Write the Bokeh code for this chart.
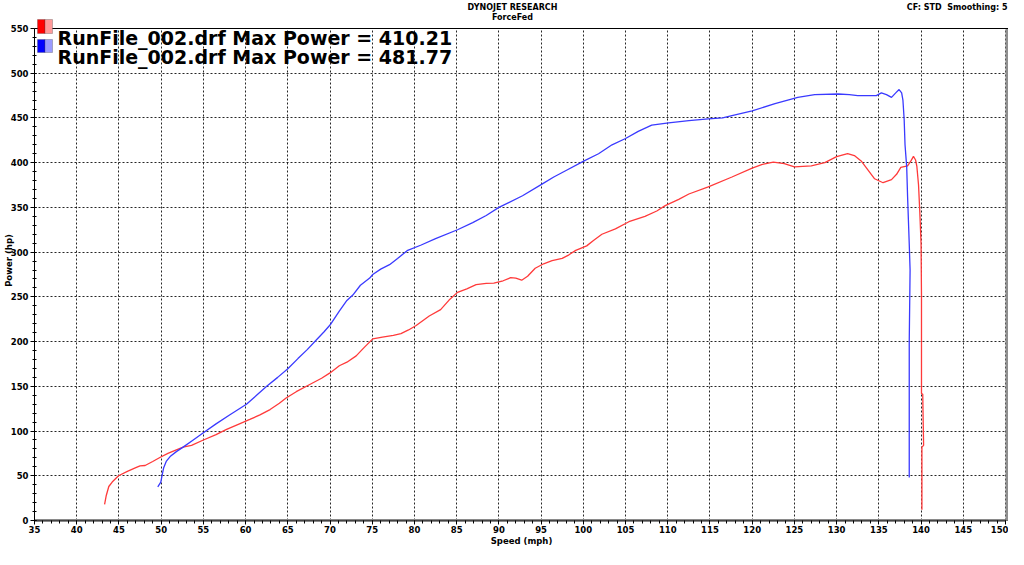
import math
from bokeh.plotting import figure
from bokeh.models import Range1d, Span, Label, BoxAnnotation, FixedTicker
from bokeh.embed import file_html
from bokeh.resources import INLINE

# ---------------- data ----------------
run1_speed = [43.3, 43.5, 43.8, 44.2, 44.95, 46.0, 47.0, 47.5, 48.1, 49.0, 49.9, 50.8, 51.8, 52.6,
              53.6, 55.0, 56.5, 57.75, 59.0, 60.5, 61.7, 62.9, 64.0, 64.8, 66.0, 67.6, 69.0, 70.0,
              71.1, 72.0, 73.1, 74.0, 75.06, 76.2, 77.5, 78.4, 79.3, 80.2, 81.75, 83.1, 84.1, 85.1,
              86.2, 87.3, 88.5, 89.4, 90.5, 91.4, 92.0, 92.7, 93.4, 94.3, 95.3, 96.3, 97.5, 98.3,
              99.1, 100.4, 101.2, 102.2, 103.8, 105.4, 107.3, 108.7, 109.7, 111.3, 112.5, 114.8,
              117.6, 120.0, 121.2, 122.5, 123.8, 125.0, 127.0, 128.6, 130.0, 131.3, 132.1, 132.9,
              133.7, 134.5, 135.5, 136.5, 137.1, 137.6, 138.4, 138.8, 139.1, 139.35, 139.5, 139.7,
              139.85, 140.0, 140.05, 140.05, 140.05, 140.2, 140.25, 140.3, 140.1, 140.1, 140.1]
run1_power = [18, 28, 38, 43, 50, 55, 59, 61, 61.5, 66, 70.7, 75, 79, 82,
              84, 90, 96, 101.8, 107, 113, 118, 124, 131, 137, 144, 152, 159, 165,
              173, 177, 184, 193, 203, 205, 207, 209, 213, 218, 228.6, 235.7, 246.4, 255,
              259, 263.6, 265, 265.4, 268, 271.5, 271, 268.6, 273, 282, 287, 290.4, 293, 297,
              302, 307, 313, 320, 326, 334, 340, 346, 352, 359, 365, 373,
              384, 394, 398, 400.7, 399, 395.4, 396.4, 400, 406.8, 410.21, 408, 402,
              392, 382, 377.6, 381, 387, 394.7, 396.4, 402, 407, 403, 396, 375,
              345, 309, 250, 180, 142, 141, 110, 84, 82, 40, 12]

run2_speed = [49.6, 49.96, 50.1, 50.3, 50.6, 51.06, 51.8, 52.6, 53.8, 55.0, 56.5, 58.1, 60.1, 61.3,
              62.5, 63.8, 65.0, 66.2, 67.3, 68.4, 69.3, 70.1, 71.1, 72.0, 72.7, 73.6, 74.7, 75.06,
              76.0, 77.05, 78.0, 79.2, 80.8, 82.5, 85.1, 86.9, 88.5, 90.0, 92.8, 95.1, 96.5, 97.9,
              100.1, 101.8, 103.4, 105.0, 106.5, 108.1, 110.1, 112.5, 114.8, 116.5, 117.6, 120.0,
              122.7, 125.4, 127.4, 130.2, 131.5, 132.5, 134.7, 135.3, 135.9, 136.5, 137.0, 137.4,
              137.7, 137.85, 138.0, 138.1, 138.3, 138.4, 138.6, 138.7, 138.6, 138.6, 138.6]
run2_power = [37.5, 43, 50, 59, 66, 71.5, 77, 82, 90, 98, 108, 118, 130, 140,
              150, 160, 169.7, 181, 191, 202, 211, 219.7, 234, 246, 252, 263, 271, 275,
              281, 286, 293, 302, 308, 315, 325, 333, 341, 350, 363, 376, 384, 391,
              402, 410, 420, 427, 435, 442, 444.6, 447, 449, 450, 452.6, 458,
              466, 473, 476, 476.8, 476, 475, 475, 478, 476, 473, 478, 481.77,
              478, 470, 448, 420, 395, 363, 309, 280, 200, 120, 48]

x_ticks = list(range(35, 151, 5))
y_ticks = list(range(0, 551, 50))
legend_texts = ["RunFile_002.drf Max Power = 410.21", "RunFile_002.drf Max Power = 481.77"]
title_text = "DYNOJET RESEARCH"
subtitle_text = "ForceFed"
info_text = "CF: STD\u00a0 Smoothing: 5"
x_label = "Speed (mph)"
y_label = "Power (hp)"

FONT = "DejaVu Sans"

# ---------------- layout geometry (pixels) ----------------
W, H = 1008, 549
FL, FR, FT, FB = 34, 1008, 0, 520       # frame edges
X0PX, X1PX = 34, 1005                   # where 35 and 150 mph sit
Y550PX = 28                             # where 550 hp sits
sx = (X1PX - X0PX) / 115.0
sy = (FB - Y550PX) / 550.0
x_end = 150 + (FR - X1PX) / sx
y_end = 550 + (Y550PX - FT) / sy

def mx(px):
    return 35 + (px - X0PX) / sx

def hy(py):
    return (FB - py) / sy

p = figure(width=W, height=H, x_range=Range1d(35, x_end), y_range=Range1d(0, y_end),
           output_backend="svg", toolbar_location=None,
           min_border_left=FL, min_border_right=W - FR, min_border_top=FT, min_border_bottom=H - FB)
p.title.visible = False
p.outline_line_color = None
p.background_fill_color = "white"
p.border_fill_color = "white"

p.xaxis.ticker = FixedTicker(ticks=x_ticks, minor_ticks=list(range(35, 151)))
p.yaxis.ticker = FixedTicker(ticks=y_ticks, minor_ticks=list(range(0, 551, 10)))
p.xaxis.bounds = (35, 150)
p.yaxis.bounds = (0, 550)

for ax in (p.xaxis[0], p.yaxis[0]):
    ax.major_label_text_font = FONT
    ax.major_label_text_font_style = "bold"
    ax.major_label_text_font_size = "8.5px"
    ax.major_label_text_color = "black"
    ax.major_tick_line_color = "black"
    ax.minor_tick_line_color = "black"
    ax.axis_label_text_font = FONT
    ax.axis_label_text_font_style = "bold"
    ax.axis_label_text_font_size = "8.5px"
    ax.axis_label_text_color = "black"

p.xaxis.axis_label = x_label
p.yaxis.axis_label = y_label

p.xaxis.axis_line_color = "#8a8a8a"
p.xaxis.axis_line_width = 3
p.xaxis.major_tick_in = 0
p.xaxis.major_tick_out = 4
p.xaxis.minor_tick_in = 0
p.xaxis.minor_tick_out = 3
p.xaxis.major_label_standoff = 1
p.xaxis.axis_label_standoff = 0

p.yaxis.axis_line_color = "black"
p.yaxis.major_tick_in = 2
p.yaxis.major_tick_out = 4
p.yaxis.minor_tick_in = 2
p.yaxis.minor_tick_out = 2
p.yaxis.major_label_standoff = 2
p.yaxis.axis_label_standoff = -6

for g in (p.xgrid[0], p.ygrid[0]):
    g.grid_line_color = "black"
    g.grid_line_alpha = 0.85
    g.grid_line_dash = "2 2"
    g.grid_line_width = 1

# cover grid above the 550 line, then frame lines
p.add_layout(BoxAnnotation(bottom=550, fill_color="white", fill_alpha=1, line_color=None))
p.add_layout(BoxAnnotation(left=150, right=x_end - 0.05, bottom=0, top=550.5,
                           fill_color="#8f8f8f", fill_alpha=1, line_color=None))
p.add_layout(Span(location=550, dimension="width", line_color="black", line_width=1))
p.add_layout(Span(location=0, dimension="width", line_color="black", line_width=1))

p.line(run1_speed, run1_power, line_color="#ff3a3a", line_width=1.3)
p.line(run2_speed, run2_power, line_color="#3a3aff", line_width=1.3)

# texts
def lab(px, py, t, size, align="left", baseline="alphabetic"):
    p.add_layout(Label(x=mx(px), y=hy(py), text=t, text_font=FONT, text_font_style="bold",
                       text_font_size=size, text_align=align, text_baseline=baseline,
                       text_color="black"))

lab(512, 2, title_text, "8px", align="center", baseline="top")
lab(512, 12, subtitle_text, "8px", align="center", baseline="top")
lab(1007, 2, info_text, "8px", align="right", baseline="top")

lab(57, 37, legend_texts[0], "19px")
lab(57, 56, legend_texts[1], "19px")

swatches = [("#ff0000", "#ff9a9a", 19, 33), ("#0000ff", "#9a9aff", 39, 52)]
for dark, light, ytop, ybot in swatches:
    p.add_layout(BoxAnnotation(left=mx(37), right=mx(44.5), top=hy(ytop), bottom=hy(ybot),
                               fill_color=dark, fill_alpha=1, line_color="#404040", line_width=1))
    p.add_layout(BoxAnnotation(left=mx(44.5), right=mx(52), top=hy(ytop), bottom=hy(ybot),
                               fill_color=light, fill_alpha=1, line_color="#404040", line_width=1))

open("out.html", "w").write(file_html(p, INLINE))
